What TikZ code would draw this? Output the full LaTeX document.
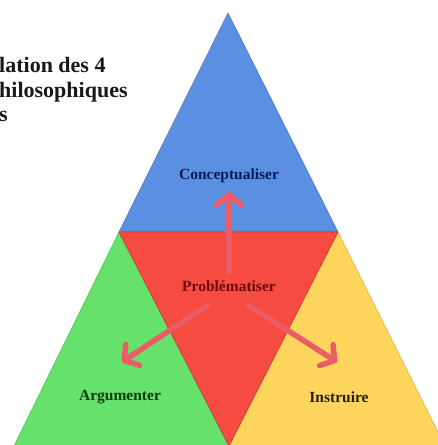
\documentclass[tikz,border=0pt]{standalone}
\usepackage{fontspec}
\setmainfont{Liberation Serif}
\usetikzlibrary{arrows.meta}
\definecolor{cblue}{HTML}{5B8FE2}
\definecolor{cred}{HTML}{F54B40}
\definecolor{cgreen}{HTML}{66E16B}
\definecolor{cyellow}{HTML}{FDD45C}
\definecolor{carrow}{HTML}{EC5C66}
\definecolor{tblue}{HTML}{0B1A5A}
\definecolor{tred}{HTML}{6A0C0C}
\definecolor{tgreen}{HTML}{0C3A0E}
\definecolor{tbrown}{HTML}{2A1B08}
\tikzset{
  region/.style={line width=0.6pt, line join=round},
  lbl/.style={font=\fontsize{15.5}{18}\selectfont\bfseries, inner sep=0pt},
  ttl/.style={font=\fontsize{22}{25}\selectfont\bfseries, inner sep=0pt, anchor=base west, text=black!90},
  bigarrow/.style={carrow, line width=5.5pt, line cap=round,
    -{Straight Barb[round, length=10pt, width=25pt]}}
}
\begin{document}
\begin{tikzpicture}[x=1pt,y=-1pt]
\useasboundingbox (0,0) rectangle (438,445);
\fill[white] (0,0) rectangle (438,445);
\coordinate (A) at (228,13);
\coordinate (L) at (119,232);
\coordinate (R) at (338,232);
\coordinate (M) at (229,446);
\coordinate (BL) at (14,446);
\coordinate (BR) at (445,446);
\filldraw[region, fill=cblue, draw=cblue!85!black] (A) -- (L) -- (R) -- cycle;
\filldraw[region, fill=cgreen, draw=cgreen!85!black] (L) -- (BL) -- (M) -- cycle;
\filldraw[region, fill=cyellow, draw=cyellow!85!black] (R) -- (M) -- (BR) -- cycle;
\filldraw[region, fill=cred, draw=cred!80!black] (L) -- (R) -- (M) -- cycle;

\node[ttl] (t1) at (-1,72) {lation des 4};
\node[ttl] (t2) at (-1,97) {hilosophiques};
\node[ttl] (t3) at (-1,121) {s};

\node[lbl, text=tblue] (con) at (229,176) {Conceptualiser};
\node[lbl, text=tred] (pro) at (229,286) {Problématiser};
\node[lbl, text=tgreen] (arg) at (120,397) {Argumenter};
\node[lbl, text=tbrown] (ins) at (339,397) {Instruire};

\coordinate (pu) at (229,272);
\coordinate (pl) at (208,305);
\coordinate (pr) at (248,305);
\coordinate (cu) at (229,192);
\coordinate (al) at (122,362);
\coordinate (ir) at (337,362);
\draw[bigarrow] (pu) -- (cu);
\draw[bigarrow] (pl) -- (al);
\draw[bigarrow] (pr) -- (ir);
\end{tikzpicture}
\end{document}
